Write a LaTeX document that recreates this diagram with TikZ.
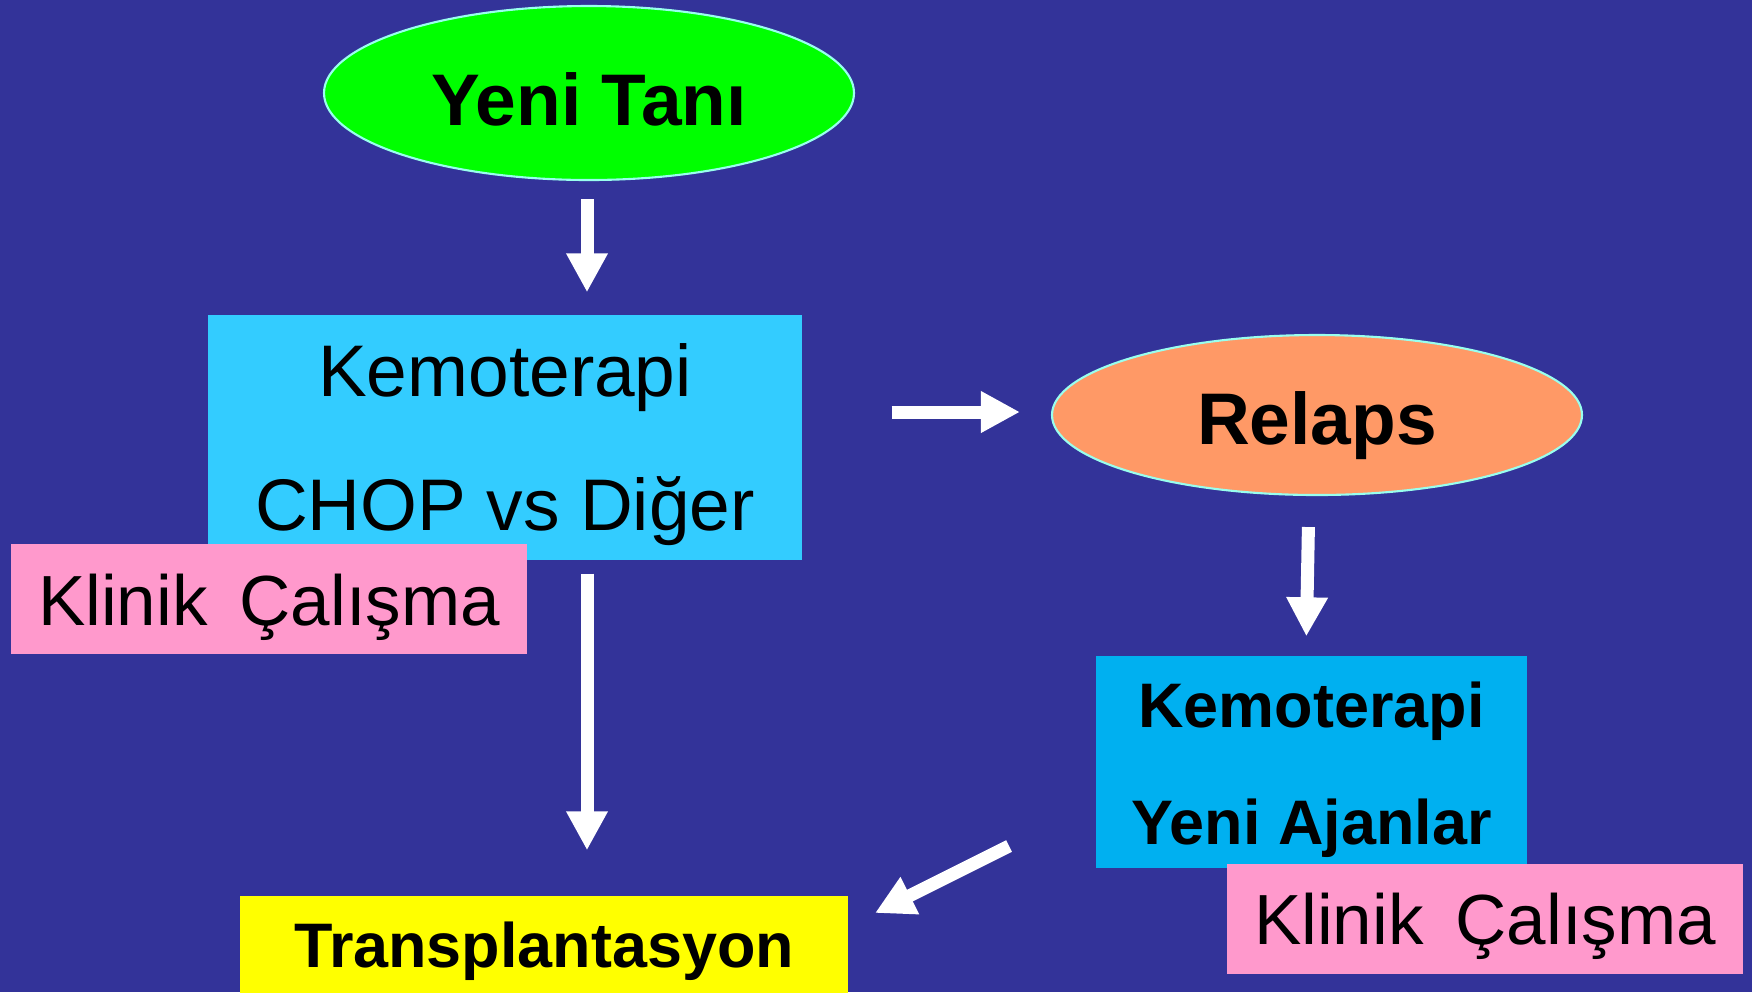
\documentclass[tikz,border=0pt]{standalone}
\usepackage{fontspec}
\usepackage{graphicx}
\setmainfont{Liberation Sans}
\usetikzlibrary{shapes.geometric, arrows.meta}

\definecolor{slidebg}{HTML}{333399}
\definecolor{edgecyan}{HTML}{99FFEE}
\definecolor{newgreen}{HTML}{00FF00}
\definecolor{chemoblue}{HTML}{33CCFF}
\definecolor{relapsorange}{HTML}{FF9966}
\definecolor{newblue}{HTML}{00B0F0}
\definecolor{trialpink}{HTML}{FF99CC}
\definecolor{transyellow}{HTML}{FFFF00}

% lower a line of text a little, keeping its metrics
\newcommand{\dropline}[2][0.08cm]{\raisebox{-#1}[\height][\depth]{#2}}

\begin{document}
\begin{tikzpicture}[
    arrow/.style={-{Triangle[width=0.39cm, length=0.39cm]}, line width=0.13cm, white},
    oval/.style={ellipse, draw=edgecyan, line width=0.6pt, inner sep=0pt,
                 font=\fontsize{20.8}{25}\selectfont\bfseries},
    block/.style={rectangle, inner sep=0pt, align=center},
    trial/.style={block, fill=trialpink, minimum width=5.16cm, minimum height=1.10cm,
                  font=\fontsize{20.2}{25}\selectfont}
]
\clip (0, 0) rectangle (17.52, -9.92);
\fill[slidebg] (0, 0) rectangle (17.52, -9.92);

\node[oval, fill=newgreen, minimum width=5.30cm, minimum height=1.74cm]
    (yeni) at (5.89, -0.93) {\dropline[0.06cm]{Yeni Tanı}};

\node[block, fill=chemoblue, minimum width=5.94cm, minimum height=2.45cm,
      font=\fontsize{20.8}{38}\selectfont]
    (kemo) at (5.05, -4.375) {\dropline[0.07cm]{Kemoterapi}\\\dropline[0.07cm]{CHOP vs Diğer}};
\node[trial] (klinik1) at (2.69, -5.99) {\dropline{Klinik\hspace{0.45em}Çalışma}};

\node[oval, fill=relapsorange, minimum width=5.30cm, minimum height=1.60cm]
    (relaps) at (13.17, -4.15) {\dropline[0.11cm]{Relaps}};

\node[block, fill=newblue, minimum width=4.31cm, minimum height=2.12cm,
      font=\fontsize{17.9}{33.3}\selectfont\bfseries]
    (kemo2) at (13.115, -7.62) {\dropline{Kemoterapi}\\\dropline{Yeni Ajanlar}};
\node[trial] (klinik2) at (14.85, -9.185) {\dropline{Klinik\hspace{0.45em}Çalışma}};

\node[block, fill=transyellow, minimum width=6.08cm, minimum height=1.10cm,
      font=\fontsize{17.9}{22}\selectfont\bfseries]
    (trans) at (5.44, -9.51) {Transplantasyon};

\draw[arrow, shorten <=0.18cm, shorten >=0.22cm]
    ([xshift=-0.02cm]yeni.south) -- ([xshift=-0.02cm]yeni.south |- kemo.north);
\draw[arrow, shorten <=0.89cm, shorten >=0.31cm]
    ([yshift=0.03cm]kemo.east |- relaps.west) -- ([yshift=0.03cm]relaps.west);
\draw[arrow, shorten <=0.31cm, shorten >=0.19cm]
    ([xshift=-0.08cm]relaps.south) -- ([xshift=-0.055cm]kemo2.north);
\draw[arrow, shorten <=0.13cm, shorten >=0.45cm]
    ([xshift=-0.02cm]yeni.south |- kemo.south) -- ([xshift=-0.02cm]yeni.south |- trans.north);

\coordinate (back1) at (10.09, -8.46);
\coordinate (back2) at (8.75, -9.13);
\draw[arrow] (back1) -- (back2);
\end{tikzpicture}
\end{document}
